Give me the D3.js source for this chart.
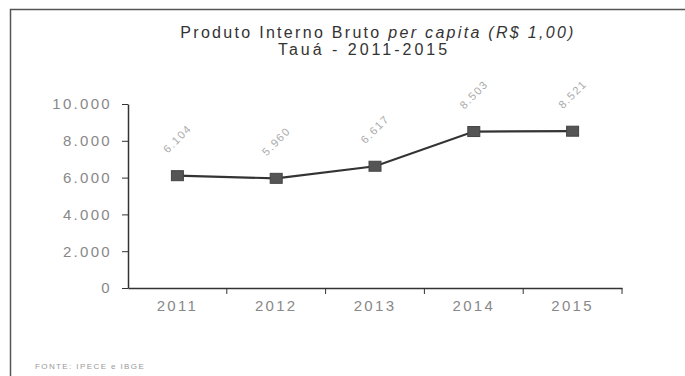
<!DOCTYPE html>
<html><head><meta charset="utf-8">
<script src="https://cdn.jsdelivr.net/npm/d3@7"></script>
<style>body{margin:0;background:#fff;}svg{display:block;font-family:"Liberation Sans",Arial,sans-serif;}</style>
</head><body>
<svg id="c" width="685" height="376"></svg>
<script>
const years = ["2011","2012","2013","2014","2015"];
const values = [6104, 5960, 6617, 8503, 8521];
const valueLabels = ["6.104","5.960","6.617","8.503","8.521"];
const yTicks = [0,2000,4000,6000,8000,10000];
const yTickLabels = ["0","2.000","4.000","6.000","8.000","10.000"];

const svg = d3.select("#c");
// frame
svg.append("path").attr("d","M10.5,380 L10.5,9.5 L690,9.5")
  .attr("fill","none").attr("stroke","#555").attr("stroke-width",1.5);

const x = d3.scaleBand().domain(years).range([128,622]);
const y = d3.scaleLinear().domain([0,10000]).range([288,104]);

// title
const t = svg.append("text").attr("x",378).attr("y",38).attr("text-anchor","middle")
  .attr("font-size",16).attr("letter-spacing",2.3).attr("fill","#333");
t.append("tspan").text("Produto Interno Bruto ");
t.append("tspan").attr("font-style","italic").text("per capita (R$ 1,00)");
svg.append("text").attr("x",364).attr("y",55).attr("text-anchor","middle")
  .attr("font-size",16).attr("letter-spacing",3).attr("fill","#333").text("Tauá - 2011-2015");

// y axis
const ya = svg.append("g").attr("transform","translate(128,0)")
  .call(d3.axisLeft(y).tickValues(yTicks).tickFormat((d,i)=>yTickLabels[i]).tickSize(6).tickSizeOuter(0));
ya.select(".domain").attr("stroke","#333").attr("stroke-width",1.5);
ya.selectAll(".tick line").attr("stroke","#333");
ya.selectAll(".tick text").attr("fill","#888").attr("font-size",15).attr("x",-16)
  .attr("letter-spacing",2.3)
  .attr("font-family","Liberation Sans, Arial, sans-serif");

// x axis
const xa = svg.append("g").attr("transform","translate(0,288)")
  .call(d3.axisBottom(x).tickSize(0));
xa.select(".domain").attr("stroke","#333").attr("stroke-width",1.5);
xa.selectAll(".tick text").attr("fill","#888").attr("font-size",15).attr("dy","1.3em")
  .attr("letter-spacing",2.3)
  .attr("font-family","Liberation Sans, Arial, sans-serif");
// boundary ticks
const bounds = years.map(d=>x(d)).concat([x(years[years.length-1])+x.bandwidth()]).slice(1);
svg.selectAll(".bt").data(bounds).enter().append("line")
  .attr("x1",d=>d).attr("x2",d=>d).attr("y1",288).attr("y2",294).attr("stroke","#333");

const cx = d=>x(d)+x.bandwidth()/2;
const line = d3.line().x((d,i)=>cx(years[i])).y(d=>y(d));
svg.append("path").datum(values).attr("d",line).attr("fill","none")
  .attr("stroke","#333").attr("stroke-width",2.2);
svg.selectAll(".m").data(values).enter().append("rect")
  .attr("x",(d,i)=>cx(years[i])-6).attr("y",d=>y(d)-5).attr("width",12).attr("height",10)
  .attr("fill","#555").attr("stroke","#444");

svg.selectAll(".lbl").data(values).enter().append("text")
  .attr("transform",(d,i)=>`translate(${cx(years[i])},${y(d)-37}) rotate(-45)`)
  .attr("text-anchor","middle").attr("dy","0.35em").attr("font-size",11).attr("fill","#aaa")
  .attr("letter-spacing",1.5)
  .text((d,i)=>valueLabels[i]);

svg.append("text").attr("x",35).attr("y",369).attr("font-size",8).attr("fill","#999")
  .attr("letter-spacing",1.4).text("FONTE: IPECE e IBGE");
</script>
</body></html>
